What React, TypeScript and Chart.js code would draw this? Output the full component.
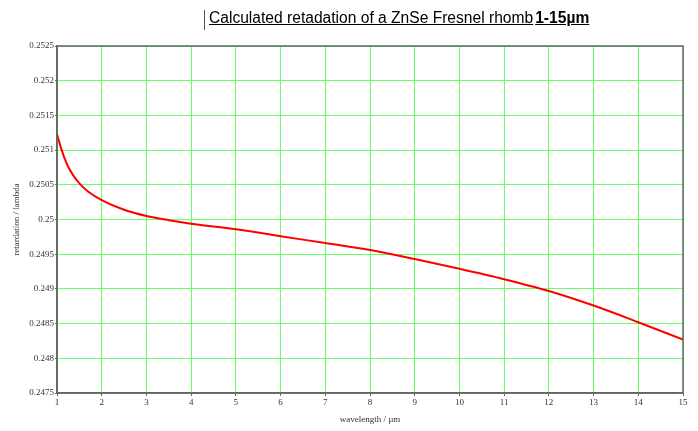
import React, { useEffect, useRef } from "react";
import { Chart, registerables } from "chart.js";

Chart.register(...registerables);

const wavelength = [1, 1.1, 1.17, 1.25, 1.36, 1.5, 1.7, 2, 2.5, 3, 3.5, 4, 5, 6, 7, 8, 9, 10, 11, 12, 13, 14, 15];
const retardation = [
  0.25123, 0.25101, 0.25088, 0.25076, 0.25064, 0.25052, 0.2504, 0.25028, 0.25014, 0.25005, 0.24999,
  0.24994, 0.24986, 0.24976, 0.24966, 0.24956, 0.24943, 0.24929, 0.24914, 0.24897, 0.24876, 0.24852,
  0.24827,
];
const xTicks = [1, 2, 3, 4, 5, 6, 7, 8, 9, 10, 11, 12, 13, 14, 15];
const yMin = 0.2475;
const yMax = 0.2525;
const yStep = 0.0005;

const titleMain = "Calculated retadation of a ZnSe Fresnel rhomb";
const titleBold = "1-15µm";
const xTitle = "wavelength / µm";
const yTitle = "retardation / lambda";

const GRID = "#66ff66";
const AXIS = "#666666";
const SERIF = "'Liberation Serif', 'DejaVu Serif', serif";

export default function App() {
  const ref = useRef<HTMLCanvasElement | null>(null);

  useEffect(() => {
    document.body.style.margin = "0";
    if (!ref.current) return;
    const chart = new Chart(ref.current, {
      type: "line",
      data: {
        datasets: [
          {
            data: wavelength.map((x, i) => ({ x, y: retardation[i] })),
            borderColor: "#ff0000",
            borderWidth: 2,
            pointRadius: 0,
            cubicInterpolationMode: "monotone",
            fill: false,
          },
        ],
      },
      options: {
        animation: false,
        responsive: false,
        maintainAspectRatio: false,
        layout: { padding: { top: 46, right: 15, left: 0, bottom: 0 } },
        plugins: { legend: { display: false }, tooltip: { enabled: false }, title: { display: false } },
        scales: {
          x: {
            type: "linear",
            min: 1,
            max: 15,
            afterBuildTicks: (axis: any) => {
              axis.ticks = xTicks.map((v) => ({ value: v }));
            },
            afterFit: (axis: any) => {
              axis.height = 38;
            },
            grid: {
              color: GRID,
              lineWidth: 1,
              drawTicks: true,
              tickLength: 3,
              tickColor: AXIS,
            },
            border: { color: AXIS, width: 1.5 },
            ticks: {
              color: "#333333",
              font: { family: SERIF, size: 9 },
              padding: 1,
              maxRotation: 0,
              autoSkip: false,
              callback: (v: any) => String(v),
            },
            title: {
              display: true,
              text: xTitle,
              color: "#333333",
              font: { family: SERIF, size: 9 },
              padding: { top: 0, bottom: 6 },
            },
          },
          y: {
            type: "linear",
            min: yMin,
            max: yMax,
            afterBuildTicks: (axis: any) => {
              const t: any[] = [];
              for (let i = 0; i <= Math.round((yMax - yMin) / yStep); i++) {
                t.push({ value: +(yMin + i * yStep).toFixed(4) });
              }
              axis.ticks = t;
            },
            afterFit: (axis: any) => {
              axis.width = 57;
            },
            grid: {
              color: GRID,
              lineWidth: 1,
              drawTicks: true,
              tickLength: 2,
              tickColor: AXIS,
            },
            border: { color: AXIS, width: 1.5 },
            ticks: {
              color: "#333333",
              font: { family: SERIF, size: 9 },
              padding: 1,
              autoSkip: false,
              callback: (v: any) => String(+Number(v).toFixed(4)),
            },
            title: {
              display: true,
              text: yTitle,
              color: "#333333",
              font: { family: SERIF, size: 9 },
              padding: { top: 11, bottom: 0 },
            },
          },
        },
      },
      plugins: [
        {
          id: "frame",
          afterDraw: (c: any) => {
            const { left, right, top, bottom } = c.chartArea;
            const ctx = c.ctx;
            ctx.save();
            ctx.strokeStyle = AXIS;
            ctx.lineWidth = 1.5;
            ctx.strokeRect(left, top, right - left, bottom - top);
            ctx.restore();
          },
        },
      ],
    } as any);
    return () => chart.destroy();
  }, []);

  return (
    <div style={{ position: "relative", width: 698, height: 431, background: "#fff" }}>
      <canvas ref={ref} width={698} height={431} style={{ position: "absolute", left: 0, top: 0 }} />
      <div
        style={{
          position: "absolute",
          left: 204,
          top: 10,
          height: 20,
          borderLeft: "1px solid #555",
        }}
      />
      <div
        style={{
          position: "absolute",
          left: 209,
          top: 8,
          fontFamily: "'Liberation Sans', Arial, sans-serif",
          fontSize: 15.6,
          color: "#000",
          whiteSpace: "nowrap",
          textDecoration: "underline",
          lineHeight: "20px",
        }}
      >
        {titleMain}
        <b style={{ marginLeft: 2 }}>{titleBold}</b>
      </div>
    </div>
  );
}
